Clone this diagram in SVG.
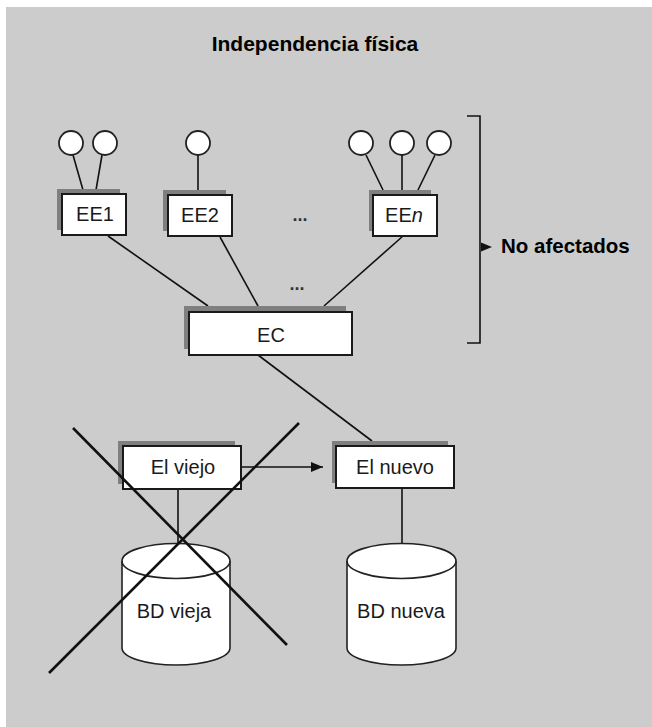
<svg xmlns="http://www.w3.org/2000/svg" width="652" height="727" viewBox="0 0 652 727">
<defs>
<style>
.bg{fill:#cccccc}
.sh{fill:#7f7f7f}
.box{fill:#ffffff;stroke:#1a1a1a;stroke-width:2}
.ln{stroke:#111;stroke-width:2.6;fill:none}
.thin{stroke:#111;stroke-width:1.6;fill:none}
.cir{fill:#ffffff;stroke:#222;stroke-width:1.8}
.cyl{fill:#ffffff;stroke:#222;stroke-width:1.6}
.lbl{font-family:"Liberation Sans",Arial,sans-serif;font-size:20px;fill:#1a1a1a;text-anchor:middle}
.bold{font-family:"Liberation Sans",Arial,sans-serif;font-weight:bold;fill:#000}
.dots{font-family:"Liberation Sans",Arial,sans-serif;font-size:18px;font-weight:bold;fill:#333;text-anchor:middle}
</style>
<marker id="ah" markerWidth="12" markerHeight="10" refX="12" refY="5" orient="auto" markerUnits="userSpaceOnUse">
<path d="M0,0 L12,5 L0,10 Z" fill="#111"/>
</marker>
</defs>
<rect class="bg" x="6" y="7" width="646" height="720"/>
<text class="bold" x="315" y="51" font-size="21" text-anchor="middle">Independencia física</text>

<g id="connectors">
<line class="thin" x1="73" y1="155" x2="83" y2="190"/>
<line class="thin" x1="102" y1="155" x2="96" y2="190"/>
<line class="thin" x1="198" y1="155" x2="198" y2="190"/>
<line class="thin" x1="366" y1="155" x2="383" y2="190"/>
<line class="thin" x1="402" y1="155" x2="402" y2="190"/>
<line class="thin" x1="435" y1="155" x2="418" y2="190"/>
<line class="thin" x1="108" y1="236" x2="208" y2="306"/>
<line class="thin" x1="220" y1="237" x2="258" y2="306"/>
<line class="thin" x1="403" y1="236" x2="324" y2="306"/>
<line class="thin" x1="258" y1="355" x2="372" y2="441"/>
<line class="thin" x1="241" y1="467" x2="323" y2="467" marker-end="url(#ah)"/>
<line class="thin" x1="178" y1="489" x2="178" y2="543"/>
<line class="thin" x1="402" y1="488" x2="402" y2="543"/>
</g>

<g id="bracket">
<polyline class="thin" points="467,116 480,116 480,343 467,343"/>
<path d="M481,242.5 L492,247 L481,251.5 Z" fill="#111"/>
<text class="bold" x="501" y="253" font-size="20.5">No afectados</text>
</g>

<g id="u1">
<circle class="cir" cx="71" cy="143" r="12"/>
<circle class="cir" cx="105" cy="143" r="12"/>
</g>
<g id="u2"><circle class="cir" cx="198" cy="143" r="12"/></g>
<g id="u3">
<circle class="cir" cx="361" cy="143" r="12"/>
<circle class="cir" cx="402" cy="143" r="12"/>
<circle class="cir" cx="439" cy="143" r="12"/>
</g>

<g id="EE1">
<rect class="sh" x="57" y="189" width="63" height="41"/>
<rect class="box" x="62" y="194" width="64" height="41"/>
<text class="lbl" x="95" y="221">EE1</text>
</g>
<g id="EE2">
<rect class="sh" x="163" y="190" width="63" height="41"/>
<rect class="box" x="168" y="195" width="64" height="41"/>
<text class="lbl" x="200" y="222">EE2</text>
</g>
<text class="dots" x="300" y="221">...</text>
<g id="EEn">
<rect class="sh" x="369" y="190" width="62" height="41"/>
<rect class="box" x="373" y="195" width="64" height="41"/>
<text class="lbl" x="404" y="222">EE<tspan font-style="italic">n</tspan></text>
</g>
<text class="dots" x="297" y="290">...</text>

<g id="EC">
<rect class="sh" x="184" y="306" width="162" height="43"/>
<rect class="box" x="189" y="312" width="163" height="43"/>
<text class="lbl" x="271" y="342" font-size="21">EC</text>
</g>

<g id="Elviejo">
<rect class="sh" x="118" y="441" width="117" height="43"/>
<rect class="box" x="123" y="446" width="118" height="43"/>
<text class="lbl" x="183" y="474">El viejo</text>
</g>
<g id="Elnuevo">
<rect class="sh" x="332" y="441" width="116" height="42"/>
<rect class="box" x="336" y="446" width="118" height="42"/>
<text class="lbl" x="395" y="474">El nuevo</text>
</g>

<g id="BDvieja">
<path class="cyl" d="M122,561 L122,648 A54,17 0 0 0 230,648 L230,561 A54,17.5 0 0 0 122,561 Z"/>
<path class="cyl" style="fill:none" d="M122,561 A54,17.5 0 0 0 230,561"/>
<text class="lbl" x="174" y="618">BD vieja</text>
</g>
<g id="BDnueva">
<path class="cyl" d="M347,561 L347,648 A54.5,17 0 0 0 456,648 L456,561 A54.5,17.5 0 0 0 347,561 Z"/>
<path class="cyl" style="fill:none" d="M347,561 A54.5,17.5 0 0 0 456,561"/>
<text class="lbl" x="401" y="618">BD nueva</text>
</g>

<g id="cross">
<line class="ln" x1="73" y1="428" x2="287" y2="645"/>
<line class="ln" x1="299" y1="423" x2="49" y2="673"/>
</g>
</svg>
